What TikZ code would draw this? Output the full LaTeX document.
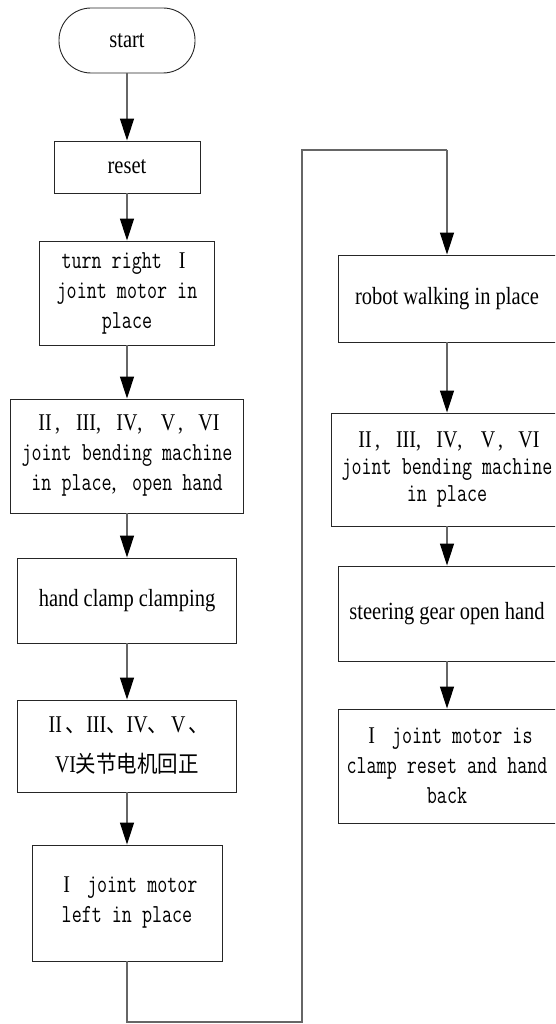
\documentclass[tikz,border=0pt]{standalone}
\usepackage{fontspec}
\setmainfont{Liberation Serif}[FakeStretch=0.83]
\newfontfamily\monof{Latin Modern Mono}[FakeStretch=0.75]
\newfontfamily\cjkf{Noto Sans CJK SC}[FakeStretch=0.89]
\usetikzlibrary{arrows.meta}
\newcommand\tfont{\rmfamily\fontsize{24.7}{28}\selectfont}
\newcommand\mfont{\monof\fontsize{26}{30}\selectfont}
\newcommand\mfontb{\monof\fontsize{26}{27}\selectfont}
\newcommand\cfont{\cjkf\fontsize{23}{40}\selectfont}
\newcommand\rn[1]{\makebox[20.5pt]{\rmfamily\fontsize{24}{24}\selectfont #1}}
\newcommand\fc{\makebox[20.5pt][l]{\rmfamily\fontsize{24}{24}\selectfont ,}}
\tikzset{
  box/.style={draw=black!85, line width=0.9pt, rectangle, inner sep=0pt, align=center, text=black},
  term/.style={box, rounded corners=32pt, minimum width=136pt, minimum height=65pt, font=\tfont},
  arr/.style={draw=black!60, line width=1.3pt, -{Triangle[width=14pt,length=22pt,color=black]}},
  conn/.style={draw=black!60, line width=1.3pt}
}
\begin{document}
\begin{tikzpicture}[x=1pt,y=-1pt]
\useasboundingbox (0,0) rectangle (555,1024);
\clip (0,0) rectangle (555,1024);
\fill[white] (0,0) rectangle (555,1024);
% left column
\node[term] (start) at (127,40.5) {start};
\node[box, minimum width=146pt, minimum height=52pt, font=\tfont] (reset) at (127,167) {reset};
\node[box, minimum width=175pt, minimum height=104pt, font=\mfont] (turn) at (127,293) {turn right \rn{I}\\joint motor in\\place};
\node[box, minimum width=233pt, minimum height=114pt, font=\mfont] (bend) at (127,456) {\rn{II}\fc\rn{III}\fc\rn{IV}\fc\rn{V}\fc\rn{VI}\\joint bending machine\\in place\fc open hand};
\node[box, minimum width=219pt, minimum height=85pt, font=\tfont] (clamp) at (127,600.5) {hand clamp clamping};
\node[box, minimum width=219pt, minimum height=92pt, font=\cfont] (back) at (127,746) {\rn{II}、\rn{III}、\rn{IV}、\rn{V}、\\\rn{VI}关节电机回正};
\node[box, minimum width=190pt, minimum height=116pt, font=\mfont] (left) at (127,903) {\rn{I} joint motor\\left in place};
% right column
\node[box, minimum width=218pt, minimum height=87pt, font=\tfont] (robot) at (447,298.5) {robot walking in place};
\node[box, minimum width=232pt, minimum height=113pt, font=\mfontb] (bend2) at (447,469.5) {\rn{II}\fc\rn{III}\fc\rn{IV}\fc\rn{V}\fc\rn{VI}\\joint bending machine\\in place};
\node[box, minimum width=218pt, minimum height=95pt, font=\tfont] (steer) at (447,613.5) {steering gear open hand};
\node[box, minimum width=218pt, minimum height=114pt, font=\mfont] (final) at (447,766) {\rn{I} joint motor is\\clamp reset and hand\\back};
% loop coordinates
\coordinate (c1) at (127,1022);
\coordinate (c2) at (302,1022);
\coordinate (c3) at (302,150);
\coordinate (c4) at (447,150);
% connectors
\draw[arr] (start) -- (reset);
\draw[arr] (reset) -- (turn);
\draw[arr] (turn) -- (bend);
\draw[arr] (bend) -- (clamp);
\draw[arr] (clamp) -- (back);
\draw[arr] (back) -- (left);
\draw[conn] (left.south) -- (c1) -- (c2) -- (c3) -- (c4);
\draw[arr] (c4) -- (robot);
\draw[arr] (robot) -- (bend2);
\draw[arr] (bend2) -- (steer);
\draw[arr] (steer) -- (final);
\end{tikzpicture}
\end{document}
